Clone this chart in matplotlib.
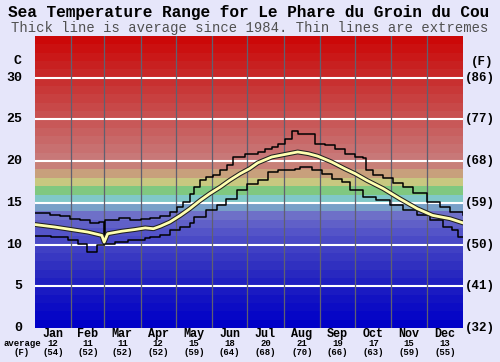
import matplotlib
matplotlib.use("Agg")
import matplotlib.pyplot as plt
import matplotlib.patheffects as pe
from matplotlib.transforms import blended_transform_factory

# ---------------- data ----------------
months = ["Jan", "Feb", "Mar", "Apr", "May", "Jun", "Jul", "Aug", "Sep", "Oct", "Nov", "Dec"]
month_days = [31, 28, 31, 30, 31, 30, 31, 31, 30, 31, 30, 31]
month_avg_c = ["12", "11", "11", "12", "15", "18", "20", "21", "19", "17", "15", "13"]
month_avg_f = ["(54)", "(52)", "(52)", "(52)", "(59)", "(64)", "(68)", "(70)", "(66)", "(63)", "(59)", "(55)"]
y_ticks_c = [0, 5, 10, 15, 20, 25, 30]
y_ticks_f = ["(32)", "(41)", "(50)", "(59)", "(68)", "(77)", "(86)"]

max_days = [0, 13, 21, 30, 38, 47, 55, 59, 60, 64, 72, 81, 90, 98, 107, 115, 121, 126, 132, 136,
            141, 146, 152, 158, 164, 169, 179, 190, 196, 202, 207, 213, 219, 224, 233, 239,
            247, 256, 264, 273, 280, 282, 288, 297, 305, 314, 322, 334, 345, 354, 365]
max_vals = [13.8, 13.6, 13.4, 13.1, 12.9, 12.6, 12.7, 10.3, 12.9, 13.0, 13.2, 12.9, 13.1, 13.2,
            13.4, 13.9, 14.5, 15.1, 16.1, 16.9, 17.7, 18.1, 18.3, 18.9, 19.5, 20.5, 20.8, 21.1,
            21.4, 21.7, 22.1, 22.7, 23.6, 23.3, 23.3, 22.1, 21.9, 21.5, 20.9, 20.5, 20.4, 18.9,
            18.3, 18.0, 17.4, 16.9, 16.2, 15.1, 14.5, 13.9, 13.5]

avg_days = [0, 17, 31, 45, 57, 59, 62, 74, 85, 94, 101, 107, 115, 124, 132, 141, 149, 158, 166,
            175, 183, 190, 202, 213, 224, 233, 241, 253, 264, 273, 283, 297, 311, 326, 339, 354, 365]
avg_vals = [12.4, 12.1, 11.8, 11.5, 11.1, 10.3, 11.3, 11.6, 11.8, 12.0, 11.9, 12.2, 12.7, 13.5,
            14.3, 15.3, 16.1, 16.9, 17.7, 18.5, 19.1, 19.8, 20.5, 20.8, 21.1, 20.9, 20.6, 19.9,
            19.1, 18.5, 17.7, 16.7, 15.5, 14.3, 13.5, 13.1, 12.6]

min_days = [0, 14, 28, 37, 44, 53, 59, 60, 68, 79, 85, 94, 98, 107, 115, 124, 132, 136, 146, 155,
            163, 172, 181, 190, 199, 207, 222, 226, 236, 245, 253, 262, 269, 280, 291, 303, 314,
            326, 337, 348, 356, 361, 365]
min_vals = [11.0, 10.9, 10.6, 10.1, 9.1, 9.9, 10.3, 10.1, 10.3, 10.5, 10.6, 10.8, 10.9, 11.2,
            11.8, 12.1, 12.6, 13.3, 14.1, 14.7, 15.5, 16.5, 17.3, 17.7, 18.7, 18.9, 19.0, 19.3,
            18.9, 18.5, 17.9, 17.5, 16.6, 15.7, 15.3, 14.7, 14.1, 13.5, 12.9, 12.1, 11.7, 10.9, 10.9]

# ---------------- style ----------------
band_colors = [
    "#0000c8", "#0606c6", "#0c0cc4", "#1212c2", "#1a1ac2", "#2020c0", "#2828c0", "#3030c0",
    "#3838c2", "#4040c4", "#4a4ac6", "#5454c8", "#6060c8", "#6e70c8", "#78a0c8", "#80c8c8",
    "#80c880", "#c8c880", "#c8a07c", "#c88078", "#c87878", "#c87070", "#c86868", "#c86060",
    "#c85858", "#c85050", "#c84848", "#c84040", "#c83838", "#c83030", "#c82828", "#c82020",
    "#ca1818", "#cb1010", "#cc0808",
]

W, H = 500, 362
fig = plt.figure(figsize=(W / 100, H / 100), dpi=100)
fig.patch.set_facecolor("#e6e6fa")
ax = fig.add_axes([35 / W, 1 - 328 / H, 428 / W, 292 / H])

for i, c in enumerate(band_colors):
    ax.axhspan(i, i + 1, color=c, lw=0, zorder=0)

for t in y_ticks_c[1:]:
    ax.axhline(t, color="white", lw=1.5, zorder=1)

cum = 0
bounds = []
for d in month_days:
    cum += d
    bounds.append(cum)
for b in bounds[:-1]:
    ax.axvline(b, color="#606070", lw=0.9, zorder=1)

ax.step(max_days, max_vals, where="post", color="black", lw=1.1, zorder=3)
ax.step(min_days, min_vals, where="post", color="black", lw=1.1, zorder=3)
ax.plot(avg_days, avg_vals, color="#ffffb0", lw=2.0, zorder=4,
        path_effects=[pe.Stroke(linewidth=3.5, foreground="#202020"), pe.Normal()])

ax.set_xlim(0, 365)
ax.set_ylim(0, 35)
ax.set_xticks([])
ax.set_yticks([])
for s in ax.spines.values():
    s.set_visible(False)

mono = "Liberation Mono"

fig.text(8 / W, 1 - 13 / H, "Sea Temperature Range for Le Phare du Groin du Cou",
         fontfamily=mono, fontweight="bold", fontsize=11.6, ha="left", va="center", color="black")
fig.text(W / 2 / W, 1 - 28 / H, "Thick line is average since 1984. Thin lines are extremes",
         fontfamily=mono, fontsize=10, ha="center", va="center", color="#505050")

tr_l = blended_transform_factory(fig.transFigure, ax.transData)
for t in y_ticks_c:
    ax.text(22 / W, t, str(t), transform=tr_l, fontfamily=mono, fontweight="bold",
            fontsize=9.5, ha="right", va="center", color="black")
for t, lab in zip(y_ticks_c, y_ticks_f):
    ax.text(465 / W, t, lab, transform=tr_l, fontfamily=mono, fontweight="bold",
            fontsize=9, ha="left", va="center", color="black")
fig.text(18 / W, 1 - 61 / H, "C", fontfamily=mono, fontweight="bold", fontsize=9.5,
         ha="center", va="center")
fig.text(482 / W, 1 - 62 / H, "(F)", fontfamily=mono, fontweight="bold", fontsize=9,
         ha="center", va="center")

tr_b = blended_transform_factory(ax.transData, fig.transFigure)
start = 0
for m, d, a, f in zip(months, month_days, month_avg_c, month_avg_f):
    mid = start + d / 2
    ax.text(mid, 1 - 334 / H, m, transform=tr_b, fontfamily=mono, fontweight="bold",
            fontsize=8.5, ha="center", va="center")
    ax.text(mid, 1 - 343.5 / H, a, transform=tr_b, fontfamily=mono, fontweight="bold",
            fontsize=6.5, ha="center", va="center")
    ax.text(mid, 1 - 352.5 / H, f, transform=tr_b, fontfamily=mono, fontweight="bold",
            fontsize=6.5, ha="center", va="center")
    start += d

fig.text(22 / W, 1 - 343.5 / H, "average", fontfamily=mono, fontweight="bold", fontsize=6.5,
         ha="center", va="center")
fig.text(22 / W, 1 - 352.5 / H, "(F)", fontfamily=mono, fontweight="bold", fontsize=6.5,
         ha="center", va="center")

fig.savefig("out.png", dpi=100, facecolor=fig.get_facecolor())
